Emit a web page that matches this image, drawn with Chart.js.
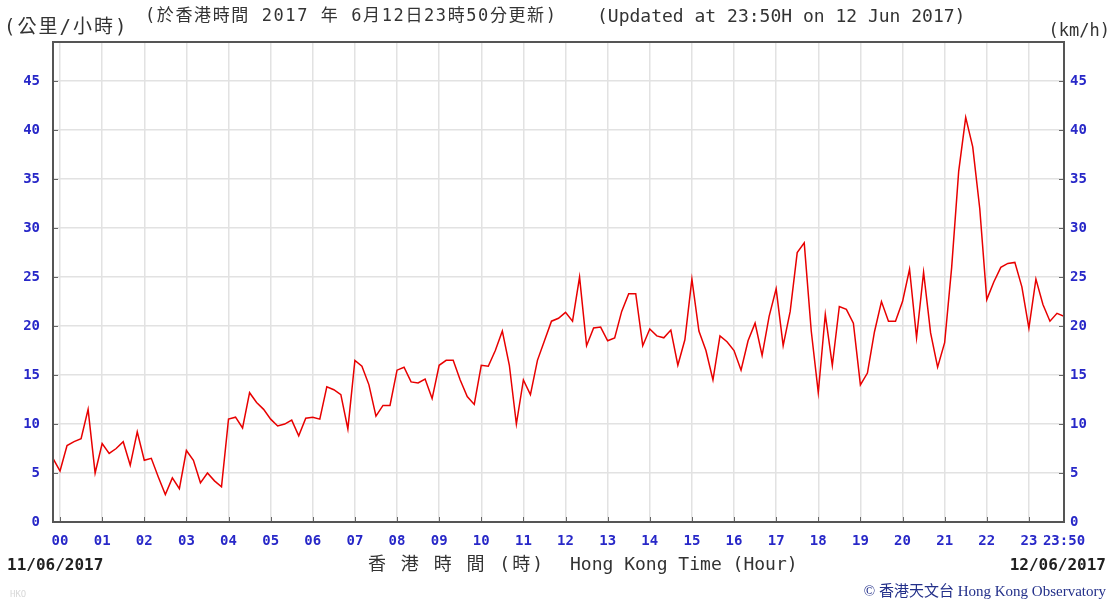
<!DOCTYPE html>
<html>
<head>
<meta charset="utf-8">
<script src="https://cdn.jsdelivr.net/npm/chart.js@4.4.1/dist/chart.umd.min.js"></script>
<style>
  html, body { margin: 0; padding: 0; background: #fff; }
  #wrap { position: relative; width: 1113px; height: 602px; }
</style>
</head>
<body>
<div id="wrap"><canvas id="windChart"></canvas></div>
<script>
// 10-minute mean wind speed (km/h), 23:50 11/06/2017 to 23:50 12/06/2017
const firstMinute = -10;   // 23:50 of the previous day
const stepMinutes = 10;

const speedEarly = [6.5, 5.2, 7.8, 8.2, 8.5, 11.5, 5.0, 8.0, 7.0, 7.5,
                    8.2, 5.8, 9.2, 6.3, 6.5, 4.6, 2.8, 4.5, 3.4, 7.3,
                    6.3, 4.0, 5.0, 4.2, 3.6, 10.5, 10.7, 9.6, 13.2, 12.2,
                    11.5, 10.5, 9.8, 10.0, 10.4, 8.8, 10.6];
const speedMorning = [10.7, 10.5, 13.8, 13.5, 13.0, 9.5, 16.5, 15.9, 14.0, 10.8,
                      11.9, 11.9, 15.5, 15.8, 14.3, 14.2, 14.6, 12.6, 16.0, 16.5,
                      16.5, 14.5, 12.8, 12.0, 16.0, 15.9, 17.5, 19.5, 16.0, 10.0,
                      14.5, 13.0, 16.5, 18.5, 20.5, 20.8];
const speedAfternoon = [21.4, 20.5, 25.0, 18.0, 19.8, 19.9, 18.5, 18.8, 21.5, 23.3,
                        23.3, 18.0, 19.7, 19.0, 18.8, 19.6, 16.0, 18.6, 24.8, 19.5,
                        17.5, 14.5, 19.0, 18.4, 17.5, 15.5, 18.5, 20.3, 17.0, 21.0,
                        23.8, 18.0, 21.5, 27.5, 28.5, 19.5];
const speedEvening = [13.2, 21.2, 16.0, 22.0, 21.7, 20.3, 14.0, 15.2, 19.4, 22.5,
                      20.5, 20.5, 22.5, 25.8, 18.8, 25.5, 19.3, 15.8, 18.3, 26.0,
                      35.8, 41.3, 38.3, 32.0, 22.7, 24.5, 26.0, 26.4, 26.5, 24.0,
                      19.8, 24.8, 22.2, 20.5, 21.3, 21.0];

const xTickMinutes = [0, 60, 120, 180, 240, 300, 360, 420, 480, 540, 600, 660,
                      720, 780, 840, 900, 960, 1020, 1080, 1140, 1200, 1260, 1320, 1380, 1430];
const xTickLabels = ['00', '01', '02', '03', '04', '05', '06', '07', '08', '09', '10', '11',
                     '12', '13', '14', '15', '16', '17', '18', '19', '20', '21', '22', '23', '23:50'];
const yTicks = [0, 5, 10, 15, 20, 25, 30, 35, 40, 45];

const speeds = speedEarly.concat(speedMorning, speedAfternoon, speedEvening);
const points = speeds.map((v, i) => ({ x: firstMinute + i * stepMinutes, y: v }));

const mono = '"DejaVu Sans Mono", "Noto Sans CJK TC", monospace';
const tickBlue = '#2828c8';

function text(ctx, str, x, y, font, color, align, spacing) {
    ctx.save();
    ctx.font = font;
    ctx.fillStyle = color;
    ctx.textAlign = align || 'left';
    ctx.textBaseline = 'middle';
    ctx.letterSpacing = spacing || '0px';
    ctx.fillText(str, x, y);
    ctx.restore();
}

const framePlugin = {
    id: 'frame',
    afterDatasetsDraw(chart) {
        const ctx = chart.ctx;
        const a = chart.chartArea;
        const xs = chart.scales.x, ys = chart.scales.y;
        ctx.save();
        ctx.strokeStyle = '#666';
        ctx.lineWidth = 1;
        ctx.beginPath();
        xTickMinutes.slice(0, 24).forEach(m => {
            const px = Math.round(xs.getPixelForValue(m)) + 0.5;
            ctx.moveTo(px, a.bottom);
            ctx.lineTo(px, a.bottom - 5);
        });
        yTicks.forEach(v => {
            const py = Math.round(ys.getPixelForValue(v)) + 0.5;
            ctx.moveTo(a.left, py);
            ctx.lineTo(a.left + 5, py);
            ctx.moveTo(a.right, py);
            ctx.lineTo(a.right - 5, py);
        });
        ctx.stroke();
        ctx.strokeStyle = '#555';
        ctx.lineWidth = 2;
        ctx.strokeRect(a.left, a.top, a.right - a.left, a.bottom - a.top);
        ctx.restore();
    },
    afterDraw(chart) {
        const ctx = chart.ctx;
        text(ctx, '(公里/小時)', 4, 28, '19px ' + mono, '#333', 'left', '2px');
        text(ctx, '(於香港時間 2017 年 6月12日23時50分更新)', 145, 17, '17px ' + mono, '#333', 'left', '1.6px');
        text(ctx, '(Updated at 23:50H on 12 Jun 2017)', 597, 17, '18px ' + mono, '#333');
        text(ctx, '(km/h)', 1110, 32, '17px ' + mono, '#333', 'right');
        text(ctx, '11/06/2017', 7, 566, 'bold 16px ' + mono, '#222');
        text(ctx, '12/06/2017', 1106, 566, 'bold 16px ' + mono, '#222', 'right');
        text(ctx, '香 港 時 間 (時)', 368, 565, '18px ' + mono, '#333', 'left', '2px');
        text(ctx, 'Hong Kong Time (Hour)', 570, 565, '18px ' + mono, '#333');
        text(ctx, '© 香港天文台 Hong Kong Observatory', 1106, 592,
             '15px "Liberation Serif", "Noto Sans CJK TC", serif', '#23308a', 'right');
        text(ctx, 'HKO', 10, 595, '9px ' + mono, '#d8d8d8');
    }
};

new Chart(document.getElementById('windChart'), {
    type: 'line',
    data: {
        datasets: [{
            data: points,
            borderColor: '#e80000',
            borderWidth: 1.5,
            pointRadius: 0,
            tension: 0,
            yAxisID: 'y'
        }]
    },
    options: {
        responsive: true,
        maintainAspectRatio: false,
        animation: false,
        layout: { padding: { top: 42, left: 0, right: 0, bottom: 0 } },
        plugins: { legend: { display: false }, tooltip: { enabled: false } },
        scales: {
            x: {
                type: 'linear',
                min: firstMinute,
                max: 1430,
                afterBuildTicks: s => { s.ticks = xTickMinutes.map(v => ({ value: v })); },
                afterFit: s => { s.height = 80; },
                border: { display: false },
                grid: { color: '#e2e2e2', lineWidth: 1.5, drawTicks: false },
                ticks: {
                    autoSkip: false,
                    maxRotation: 0,
                    padding: 11,
                    color: tickBlue,
                    font: { family: '"DejaVu Sans Mono"', size: 14, weight: 'bold' },
                    callback: (v, i) => xTickLabels[i]
                }
            },
            y: {
                position: 'left',
                min: 0,
                max: 49,
                afterBuildTicks: s => { s.ticks = yTicks.map(v => ({ value: v })); },
                afterFit: s => { s.width = 53; },
                border: { display: false },
                grid: { color: '#e2e2e2', lineWidth: 1.5, drawTicks: false },
                ticks: {
                    padding: 13,
                    color: tickBlue,
                    font: { family: '"DejaVu Sans Mono"', size: 14, weight: 'bold' }
                }
            },
            y2: {
                position: 'right',
                min: 0,
                max: 49,
                afterBuildTicks: s => { s.ticks = yTicks.map(v => ({ value: v })); },
                afterFit: s => { s.width = 49; },
                border: { display: false },
                grid: { display: false, drawTicks: false },
                ticks: {
                    padding: 6,
                    color: tickBlue,
                    font: { family: '"DejaVu Sans Mono"', size: 14, weight: 'bold' }
                }
            }
        }
    },
    plugins: [framePlugin]
});
</script>
</body>
</html>
